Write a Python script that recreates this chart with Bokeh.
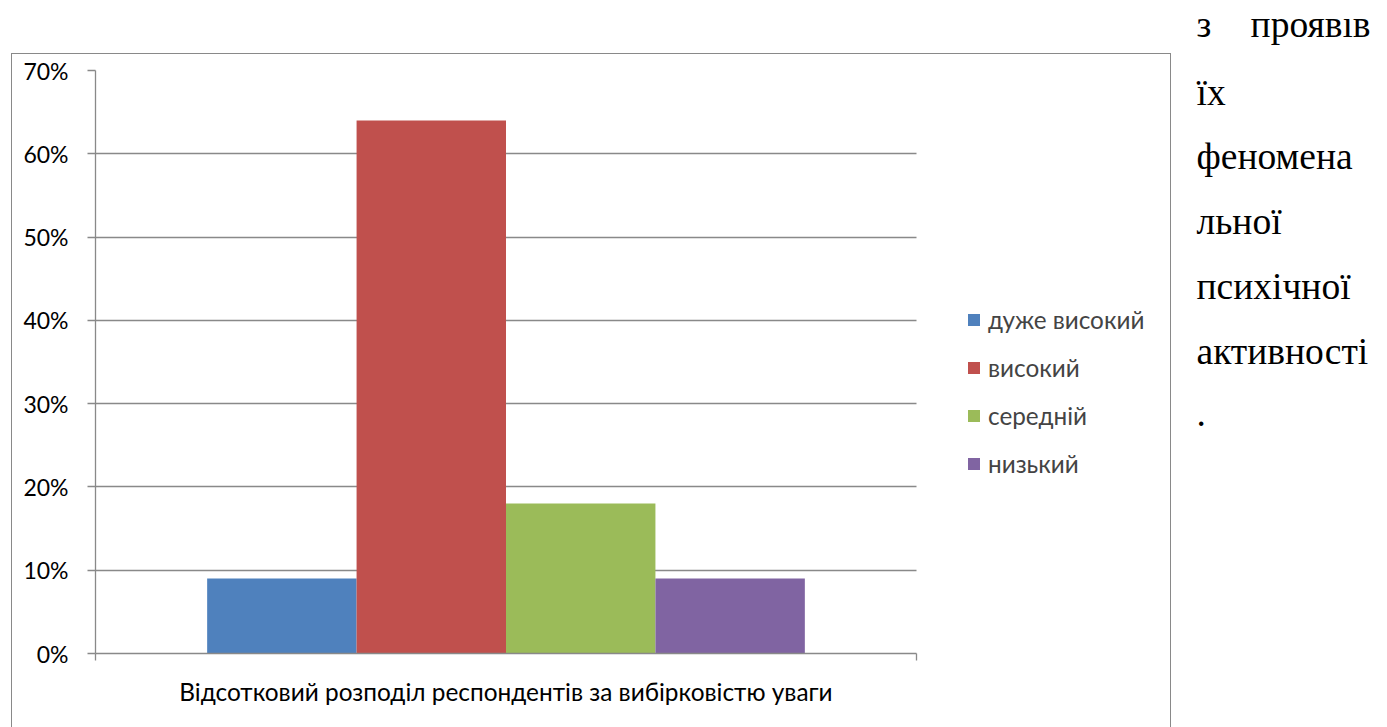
from bokeh.plotting import figure
from bokeh.layouts import row
from bokeh.models import (ColumnDataSource, FixedTicker, NumeralTickFormatter, Legend,
                          LegendItem, Range1d)
from bokeh.core.properties import value
from bokeh.embed import file_html
from bokeh.resources import INLINE

# ---- data ----
category = "Відсотковий розподіл респондентів за вибірковістю уваги"
levels = ["дуже високий", "високий", "середній", "низький"]
shares = [0.09, 0.64, 0.18, 0.09]
colors = ["#4F81BD", "#C0504D", "#9BBB59", "#8064A2"]
y_ticks = [0.0, 0.1, 0.2, 0.3, 0.4, 0.5, 0.6, 0.7]
side_text = ["з проявів", "їх", "феномена", "льної", "психічної", "активності", "."]

W, H = 1387, 727
FONT = "Lato"
GRAY = "#898989"

# chart box occupies page x 11..1171, y 53..727 ; plot area page x 94..915, y 69..652
CW, CH = 1160, 674
FW = CW - 83                      # frame runs to the right edge of the box (legend inside)
p = figure(width=CW, height=CH, output_backend="svg", toolbar_location=None,
           x_range=Range1d(0, FW / 821), y_range=Range1d(0, 0.7),
           min_border_left=83, min_border_right=0, min_border_top=16,
           min_border_bottom=75)
p.margin = (53, 0, 0, 11)
p.styles = {"border-top": "1.3px solid #898989", "border-left": "1.3px solid #898989",
            "border-right": "1.3px solid #898989"}
p.title = None
p.outline_line_color = None
p.background_fill_color = "white"
p.border_fill_color = "white"

bw = 0.182
renderers = []
for i, (lvl, val, col) in enumerate(zip(levels, shares, colors)):
    src = ColumnDataSource(dict(x=[0.5 + (i - 1.5) * bw], top=[val]))
    r = p.vbar(x="x", top="top", bottom=0, width=bw, source=src,
               fill_color=col, line_color=None)
    renderers.append(r)

# y axis
p.yaxis.ticker = FixedTicker(ticks=y_ticks)
p.yaxis.formatter = NumeralTickFormatter(format="0%")
p.yaxis.major_label_text_font = FONT
p.yaxis.major_label_text_font_size = "23px"
p.yaxis.major_label_text_color = "black"
p.yaxis.major_label_standoff = 19
p.yaxis.major_tick_out = 8
p.yaxis.major_tick_in = 0
p.yaxis.minor_tick_line_color = None
p.yaxis.axis_line_color = GRAY
p.yaxis.major_tick_line_color = GRAY
p.yaxis.axis_line_width = 1.3
p.yaxis.major_tick_line_width = 1.3

# x axis: category name as the (only) tick label, boundary ticks as minor ticks
p.xaxis.ticker = FixedTicker(ticks=[0.5], minor_ticks=[0, 1])
p.xaxis.bounds = (0, 1)
p.xaxis.major_label_overrides = {0.5: category}
p.xaxis.major_label_text_font = FONT
p.xaxis.major_label_text_font_size = "24.4px"
p.xaxis.major_label_text_color = "black"
p.xaxis.major_label_standoff = 16
p.xaxis.major_tick_out = 7
p.xaxis.major_tick_in = 0
p.xaxis.major_tick_line_color = None
p.xaxis.minor_tick_out = 7
p.xaxis.minor_tick_in = 0
p.xaxis.minor_tick_line_color = GRAY
p.xaxis.minor_tick_line_width = 1.3
p.xaxis.axis_line_color = GRAY
p.xaxis.axis_line_width = 1.3

p.xgrid.grid_line_color = None
p.ygrid.grid_line_color = GRAY
p.ygrid.grid_line_width = 1.3
p.ygrid.ticker = FixedTicker(ticks=y_ticks)
p.ygrid.cross_bounds = (0, 1)

# legend
legend = Legend(items=[LegendItem(label=l, renderers=[r]) for l, r in zip(levels, renderers)],
                location=(871, 175), glyph_width=15, glyph_height=15,
                label_text_font=FONT, label_text_font_size="24.3px", label_height=20,
                label_standoff=7, spacing=19, padding=0, margin=0,
                border_line_color=None, background_fill_alpha=0)
p.add_layout(legend, "center")

# side text figure (page x 1171..1387)
TW = W - 1171
t = figure(frame_width=TW, frame_height=H, output_backend="svg", toolbar_location=None,
           x_range=Range1d(0, TW), y_range=Range1d(H, 0),
           min_border=0, x_axis_location=None, y_axis_location=None)
t.title = None
t.outline_line_color = None
t.xgrid.visible = False
t.ygrid.visible = False
t.background_fill_color = "white"
t.border_fill_color = "white"

FS = 37.5
baselines = [35, 103, 167, 232, 297, 362, 424]
xs, ys, txt, aligns = [], [], [], []
for s, yb in zip(side_text, baselines):
    ym = yb - 0.3375 * FS - 14
    parts = s.split(" ")
    if len(parts) == 2:
        xs += [25, 199]; ys += [ym, ym]; txt += parts; aligns += ["left", "right"]
    else:
        xs.append(25); ys.append(ym); txt.append(s); aligns.append("left")
tsrc = ColumnDataSource(dict(x=xs, y=ys, text=txt, align=aligns))
t.text(x="x", y="y", text="text", source=tsrc, text_align="align",
       text_baseline="middle", text_font=value("Liberation Serif"),
       text_font_size=f"{FS}px", text_color="black")

layout = row(p, t)
open("out.html", "w").write(file_html(layout, INLINE))
